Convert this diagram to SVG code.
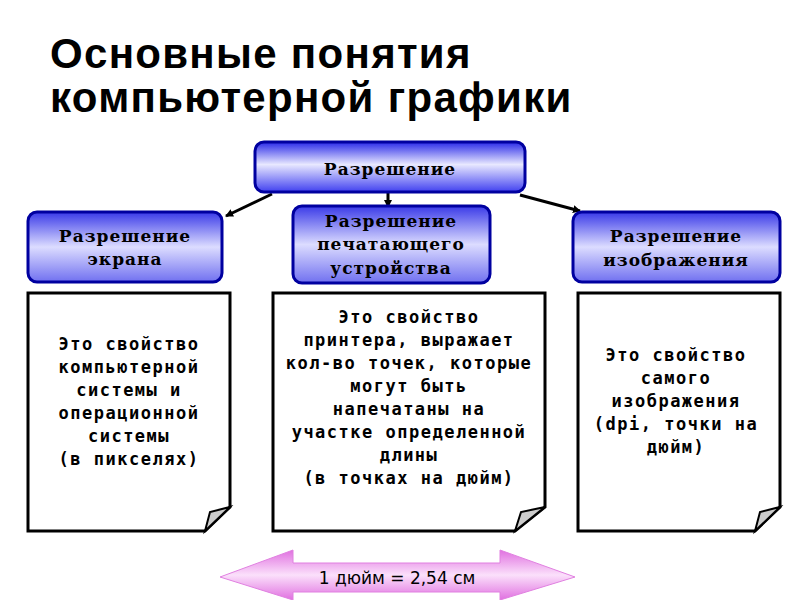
<svg xmlns="http://www.w3.org/2000/svg" width="800" height="600" viewBox="0 0 800 600">
<defs>
<linearGradient id="bg" x1="0" y1="0" x2="0" y2="1">
<stop offset="0" stop-color="#2a2ae8"/><stop offset="0.45" stop-color="#e8e8ff"/><stop offset="1" stop-color="#4040f0"/></linearGradient>
<linearGradient id="bg2" x1="0" y1="0" x2="0" y2="1">
<stop offset="0" stop-color="#3a3ae8"/><stop offset="0.5" stop-color="#dcdcff"/><stop offset="1" stop-color="#7070f0"/></linearGradient>
<linearGradient id="pk" x1="0" y1="0" x2="0" y2="1">
<stop offset="0" stop-color="#e070e0"/><stop offset="0.5" stop-color="#fbe0fb"/><stop offset="1" stop-color="#e070e0"/></linearGradient>
<marker id="ah" markerWidth="8" markerHeight="8" refX="7" refY="4" orient="auto" markerUnits="userSpaceOnUse"><path d="M0,0 L8,4 L0,8 z" fill="#000"/></marker>
</defs>
<style>
.t{font-family:"Liberation Sans",Arial,sans-serif;font-weight:bold;font-size:42px;letter-spacing:1.3px;fill:#000}
.b{font-family:"DejaVu Serif","Liberation Serif",serif;font-weight:bold;font-size:17px;letter-spacing:1px;fill:#000;text-anchor:middle}
.p{font-family:"DejaVu Sans Mono","Liberation Mono",monospace;font-weight:bold;font-size:17px;letter-spacing:1.5px;fill:#000;text-anchor:middle}
.box{stroke:#0000a0;stroke-width:3}
.paper{fill:#fff;stroke:#000;stroke-width:3}
.fold{fill:#ccc;stroke:#000;stroke-width:2}
.c{stroke:#000;stroke-width:3;fill:none;marker-end:url(#ah)}
</style>
<rect width="800" height="600" fill="#fff"/>
<text class="t" x="50" y="68">Основные понятия</text>
<text class="t" x="50" y="112">компьютерной графики</text>
<g id="connectors">
<line class="c" x1="272" y1="194" x2="226" y2="216"/>
<line class="c" x1="388" y1="193" x2="388" y2="207"/>
<line class="c" x1="520" y1="195" x2="580" y2="211"/>
</g>
<g id="n-top"><rect class="box" x="255" y="142" width="270" height="50" rx="9" fill="url(#bg)"/><text class="b" x="390" y="175">Разрешение</text></g>
<g id="n-screen"><rect class="box" x="28" y="212" width="194" height="70" rx="9" fill="url(#bg2)"/><text class="b" x="125" y="242">Разрешение</text><text class="b" x="125" y="265">экрана</text></g>
<g id="n-print"><rect class="box" x="293" y="206" width="197" height="77" rx="9" fill="url(#bg2)"/><text class="b" x="391" y="227">Разрешение</text><text class="b" x="391" y="250">печатающего</text><text class="b" x="391" y="274">устройства</text></g>
<g id="n-image"><rect class="box" x="573" y="212" width="207" height="70" rx="9" fill="url(#bg2)"/><text class="b" x="676" y="242">Разрешение</text><text class="b" x="676" y="266">изображения</text></g>
<g id="p-screen"><path class="paper" d="M28,293 H230 V507 L205,531 H28 Z"/><path class="fold" d="M230,507 L205,531 L210,512 Z"/>
<text class="p" x="129" y="350">Это свойство</text><text class="p" x="129" y="373">компьютерной</text><text class="p" x="129" y="396">системы и</text><text class="p" x="129" y="419">операционной</text><text class="p" x="129" y="442">системы</text><text class="p" x="129" y="465">(в пикселях)</text></g>
<g id="p-print"><path class="paper" d="M273,293 H545 V507 L515,531 H273 Z"/><path class="fold" d="M545,507 L515,531 L521,512 Z"/>
<text class="p" x="409" y="323">Это свойство</text><text class="p" x="409" y="346">принтера, выражает</text><text class="p" x="409" y="369">кол-во точек, которые</text><text class="p" x="409" y="392">могут быть</text><text class="p" x="409" y="415">напечатаны на</text><text class="p" x="409" y="438">участке определенной</text><text class="p" x="409" y="461">длины</text><text class="p" x="409" y="484">(в точках на дюйм)</text></g>
<g id="p-image"><path class="paper" d="M578,293 H780 V507 L755,531 H578 Z"/><path class="fold" d="M780,507 L755,531 L760,512 Z"/>
<text class="p" x="676" y="361">Это свойство</text><text class="p" x="676" y="384">самого</text><text class="p" x="676" y="407">изображения</text><text class="p" x="676" y="430">(dpi, точки на</text><text class="p" x="676" y="453">дюйм)</text></g>
<g id="n-inch"><path d="M220,577 L293,550 L293,563 L500,563 L500,550 L575,577 L500,600 L500,592 L293,592 L293,600 Z" fill="url(#pk)" stroke="#e080e0" stroke-width="1"/>
<text x="397" y="584" font-family="DejaVu Sans,sans-serif" font-size="17" text-anchor="middle" fill="#000">1 дюйм = 2,54 см</text></g>
</svg>
